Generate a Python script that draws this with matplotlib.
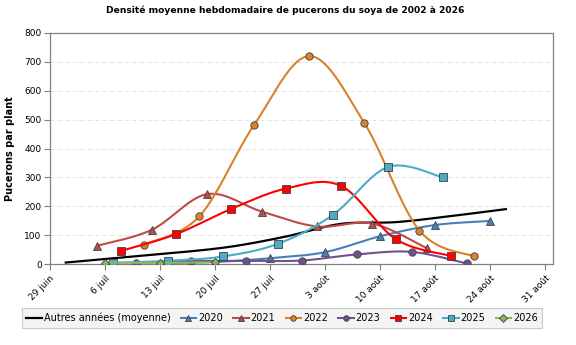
import numpy as np
import matplotlib
matplotlib.use("Agg")
import matplotlib.pyplot as plt
from matplotlib.lines import Line2D

plt.rcParams['font.family'] = ['DejaVu Sans']

# Days counted from 29 June
tick_days = [0, 7, 14, 21, 28, 35, 42, 49, 56, 63]
tick_labels = ["29 juin", "6 juil", "13 juil", "20 juil", "27 juil",
               "3 août", "10 août", "17 août", "24 août", "31 août"]

avg_days = [2, 9, 16, 23, 30, 37, 44, 51, 58]
avg_vals = [5, 22, 39, 60, 95, 139, 145, 166, 190]

d2020 = [14, 21, 28, 35, 42, 49, 56]
v2020 = [3, 7, 20, 41, 96, 135, 149]

d2021 = [6, 13, 20, 27, 34, 41, 48]
v2021 = [63, 119, 242, 181, 130, 140, 54]

d2022 = [12, 19, 26, 33, 40, 47, 54]
v2022 = [67, 165, 483, 720, 488, 116, 26]

d2023 = [11, 18, 25, 32, 39, 46, 53]
v2023 = [5, 10, 11, 12, 33, 42, 2]

d2024 = [9, 16, 23, 30, 37, 44, 51]
v2024 = [45, 103, 190, 261, 271, 86, 28]

d2025 = [8, 15, 22, 29, 36, 43, 50]
v2025 = [4, 11, 26, 70, 170, 336, 300]

d2026 = [7, 14, 21]
v2026 = [5, 4, 6]


def smooth(xs, ys, n=30):
    """Excel-like smoothed line: cubic Bezier with Catmull-Rom control points."""
    P = np.column_stack([xs, ys]).astype(float)
    m = len(P)
    if m < 2:
        return P[:, 0], P[:, 1]
    out = []
    t = np.linspace(0, 1, n)
    for i in range(m - 1):
        p0 = P[i - 1] if i > 0 else P[i]
        p1 = P[i]
        p2 = P[i + 1]
        p3 = P[i + 2] if i + 2 < m else P[i + 1]
        c1 = p1 + (p2 - p0) / 6.0
        c2 = p2 - (p3 - p1) / 6.0
        seg = ((1 - t)[:, None] ** 3 * p1 + 3 * ((1 - t) ** 2 * t)[:, None] * c1
               + 3 * ((1 - t) * t ** 2)[:, None] * c2 + (t ** 3)[:, None] * p2)
        out.append(seg if i == 0 else seg[1:])
    S = np.vstack(out)
    return S[:, 0], S[:, 1]


fig = plt.figure(figsize=(5.76, 3.45), dpi=100)
ax = fig.add_axes([50 / 576, 1 - 264 / 345, (553 - 50) / 576, (264 - 33) / 345])

series = [
    ("2020", d2020, v2020, "#4A7EBB", "^"),
    ("2021", d2021, v2021, "#BE4B48", "^"),
    ("2022", d2022, v2022, "#D9822B", "o"),
    ("2023", d2023, v2023, "#6F528F", "o"),
    ("2024", d2024, v2024, "#FF0000", "s"),
    ("2025", d2025, v2025, "#4BACC6", "s"),
    ("2026", d2026, v2026, "#8DB654", "D"),
]

handles = []
sx, sy = smooth(avg_days, avg_vals)
ax.plot(sx, sy, color="black", lw=1.6, zorder=2)
handles.append(Line2D([], [], color="black", lw=1.6, label="Autres années (moyenne)"))

for z, (name, d, v, col, mk) in enumerate(series):
    sx, sy = smooth(d, v)
    ax.plot(sx, sy, color=col, lw=1.5, zorder=3 + z, solid_capstyle="round")
    ms = 5.3 if mk != "D" else 4.3
    ax.plot(d, v, linestyle="none", marker=mk, ms=ms, markerfacecolor=col,
            markeredgecolor="#404040", markeredgewidth=0.6, zorder=3 + z)
    handles.append(Line2D([], [], color=col, lw=1.5, marker=mk, ms=4,
                          markerfacecolor=col, markeredgecolor="#404040",
                          markeredgewidth=0.6, label=name))

ax.set_xlim(0, 64)
ax.set_ylim(0, 800)
ax.set_yticks(range(0, 801, 100))
ax.set_xticks(tick_days)
ax.set_xticklabels(tick_labels, rotation=45, ha="right", rotation_mode="anchor",
                   fontsize=6.5)
ax.tick_params(axis="y", labelsize=6.5, length=4, color="#808080", pad=2)
ax.tick_params(axis="x", length=4, color="#808080", pad=3)
ax.grid(axis="y", color="#D9D9D9", linestyle=(0, (4, 2, 1, 2)), lw=0.6)
ax.set_axisbelow(True)
for s in ax.spines.values():
    s.set_color("#808080")
    s.set_linewidth(0.9)

ax.set_ylabel("Pucerons par plant", fontsize=7, fontweight="bold", labelpad=7)
fig.text(285 / 576, 1 - 10 / 345, "Densité moyenne hebdomadaire de pucerons du soya de 2002 à 2026",
         ha="center", va="center", fontsize=6.6, fontweight="bold")

leg = fig.legend(handles=handles, loc="center", bbox_to_anchor=(282 / 576, 1 - 318 / 345),
                 ncol=8, fontsize=7, frameon=True, fancybox=False,
                 handlelength=1.6, handletextpad=0.2, columnspacing=1.05,
                 borderpad=0.45)
leg.get_frame().set_facecolor("#F2F2F2")
leg.get_frame().set_edgecolor("#BFBFBF")
leg.get_frame().set_linewidth(0.8)

fig.savefig("out.png", dpi=100)
